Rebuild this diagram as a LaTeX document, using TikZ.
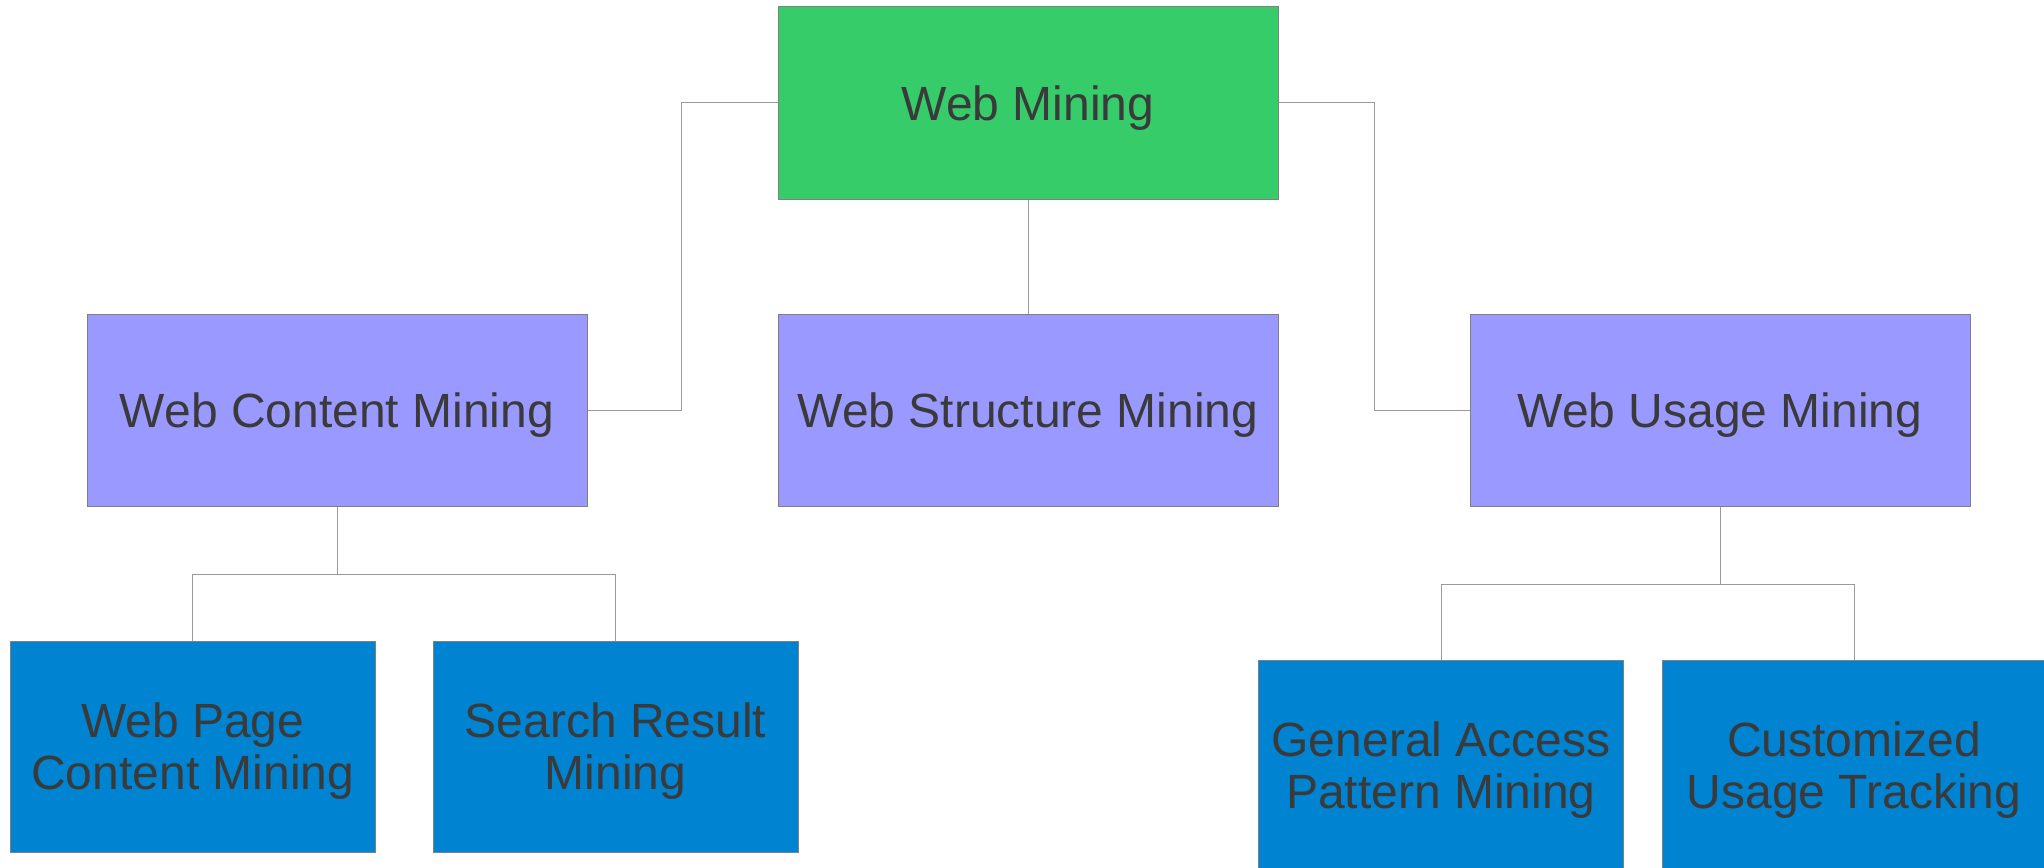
\documentclass[tikz,border=0pt]{standalone}
\usepackage{fontspec}
\setmainfont{Liberation Sans}
\definecolor{rootfill}{HTML}{35CC69}
\definecolor{catfill}{HTML}{9999FF}
\definecolor{leaffill}{HTML}{0083D1}
\definecolor{boxline}{HTML}{808080}
\definecolor{wire}{HTML}{9A9A9A}
\definecolor{label}{HTML}{3A3A3A}
\begin{document}
\begin{tikzpicture}[x=0.5pt,y=-0.5pt,
  box/.style={draw=boxline,line width=0.5pt,inner sep=0pt,align=center,
    text=label,text depth=0pt,font=\fontsize{24pt}{26pt}\selectfont},
  rootbox/.style={box,fill=rootfill,minimum width=250pt,minimum height=96.25pt},
  catbox/.style={box,fill=catfill,minimum width=250pt,minimum height=96pt},
  leafbox/.style={box,fill=leaffill,minimum width=182.5pt,minimum height=105.5pt},
  link/.style={draw=wire,line width=0.5pt}]
\useasboundingbox (0,0) rectangle (2044,867);
\fill[white] (0,0) rectangle (2044,867);

% top level
\node[rootbox] (wm) at (1028,102.75) {Web Mining};

% categories
\node[catbox] (wcm) at (337,410) {Web Content Mining};
\node[catbox] (wsm) at (1028,410) {Web Structure Mining};
\node[catbox] (wum) at (1720,410) {Web Usage Mining};

% leaves
\node[leafbox] (wpcm) at (192.75,746.5) {Web Page\\Content Mining};
\node[leafbox] (srm) at (615.5,746.5) {Search Result\\Mining};
\node[leafbox] (gapm) at (1441,765.5) {General Access\\Pattern Mining};
\node[leafbox,minimum width=192pt] (cut) at (1854,765.5) {Customized\\Usage Tracking};

% connectors
\draw[link] (wm.west) -- ++(-96,0) |- (wcm.east);
\draw[link] (wm.east) -- ++(96,0) |- (wum.west);
\draw[link] (wm.south) -- (wsm.north);

\draw[link] (wcm.south) -- ++(0,68) coordinate (wcmj);
\draw[link] (wcmj) -| (wpcm.north);
\draw[link] (wcmj) -| (srm.north);

\draw[link] (wum.south) -- ++(0,77.5) coordinate (wumj);
\draw[link] (wumj) -| (gapm.north);
\draw[link] (wumj) -| (cut.north);
\end{tikzpicture}
\end{document}
